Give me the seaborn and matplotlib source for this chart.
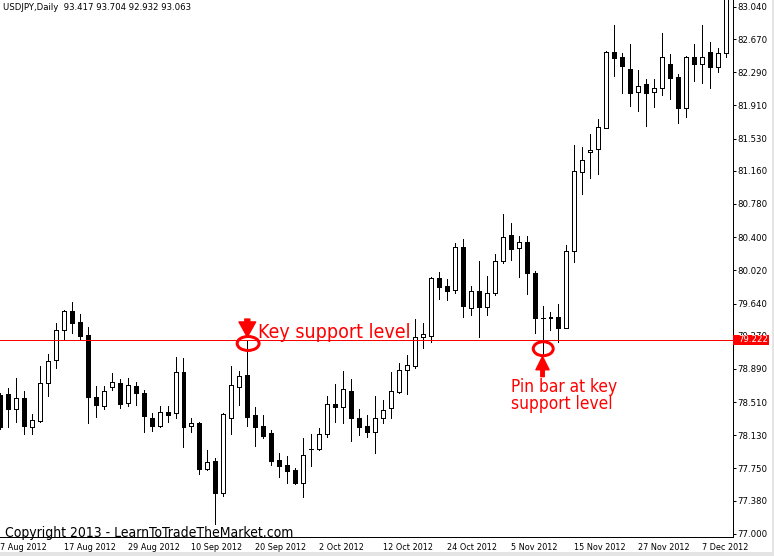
# USDJPY daily candlestick chart with key support level / pin bar annotations
import numpy as np
import pandas as pd
import matplotlib.pyplot as plt
from matplotlib.patches import Ellipse, Rectangle
from matplotlib.transforms import blended_transform_factory
import seaborn as sns

# %%
# OHLC values (7 Aug 2012 -> 12 Dec 2012, one candle per weekday)
opens = [78.590, 78.603, 78.428, 78.561, 78.221, 78.298, 78.725, 78.989, 79.332, 79.554,
         79.424, 79.279, 78.565, 78.470, 78.680, 78.725, 78.496, 78.695, 78.611, 78.328,
         78.241, 78.397, 78.382, 78.855, 78.237, 78.275, 77.748, 77.836, 77.473, 78.324,
         78.687, 78.821, 78.363, 78.241, 78.153, 77.847, 77.790, 77.733, 77.580, 77.978,
         77.973, 78.141, 78.485, 78.458, 78.638, 78.332, 78.237, 78.172, 78.324, 78.439,
         78.630, 78.878, 78.924, 79.261, 79.268, 79.929, 79.841, 79.795, 80.284, 79.585,
         79.784, 79.604, 79.757, 80.127, 80.425, 80.272, 80.341, 79.986, 79.475, 79.482,
         79.490, 79.364, 80.242, 81.151, 81.372, 81.407, 81.655, 82.518, 82.460, 82.323,
         82.059, 82.151, 82.059, 82.105, 82.380, 82.231, 81.884, 82.460, 82.380, 82.518,
         82.353, 82.506]
highs = [78.620, 78.668, 78.783, 78.638, 78.370, 78.924, 79.058, 79.413, 79.565, 79.657,
         79.520, 79.374, 78.695, 78.695, 78.840, 78.775, 78.783, 78.737, 78.649, 78.389,
         78.466, 78.466, 79.023, 79.012, 78.324, 78.286, 77.962, 77.866, 78.389, 78.924,
         78.871, 79.218, 78.458, 78.363, 78.191, 77.931, 77.897, 77.752, 78.103, 78.145,
         78.210, 78.580, 78.718, 78.871, 78.771, 78.431, 78.363, 78.580, 78.534, 78.859,
         78.962, 79.050, 79.458, 79.421, 79.948, 80.005, 79.921, 80.337, 80.375, 79.841,
         80.131, 79.955, 80.207, 80.666, 80.559, 80.414, 80.414, 80.016, 79.612, 79.547,
         79.631, 80.310, 81.456, 81.437, 81.578, 81.754, 82.537, 82.831, 82.506, 82.613,
         82.315, 82.208, 82.208, 82.735, 82.498, 82.269, 82.476, 82.613, 82.831, 82.632,
         82.563, 83.400]
lows = [78.200, 78.229, 78.286, 78.145, 78.145, 78.286, 78.580, 78.905, 79.222, 79.306,
        79.222, 78.275, 78.344, 78.431, 78.649, 78.447, 78.470, 78.477, 78.172, 78.183,
        78.221, 78.286, 78.332, 78.000, 78.172, 77.687, 77.733, 77.114, 77.435, 78.145,
        78.477, 78.237, 78.012, 78.103, 77.790, 77.656, 77.580, 77.572, 77.427, 77.782,
        77.962, 78.107, 78.286, 78.267, 78.069, 78.134, 78.115, 77.931, 78.275, 78.324,
        78.611, 78.603, 78.897, 79.127, 79.203, 79.692, 79.681, 79.757, 79.482, 79.509,
        79.261, 79.509, 79.738, 80.100, 80.139, 79.948, 79.749, 79.306, 79.060, 79.337,
        79.203, 79.356, 80.120, 80.891, 81.082, 81.124, 81.647, 82.250, 82.056, 81.903,
        81.849, 81.674, 81.895, 82.029, 81.983, 81.712, 81.781, 82.193, 82.170, 82.105,
        82.296, 82.468]
closes = [78.230, 78.428, 78.561, 78.241, 78.305, 78.725, 78.981, 79.336, 79.554, 79.413,
          79.271, 78.565, 78.477, 78.638, 78.737, 78.489, 78.703, 78.611, 78.355, 78.241,
          78.393, 78.366, 78.851, 78.229, 78.267, 77.748, 77.828, 77.473, 78.374, 78.703,
          78.809, 78.344, 78.229, 78.126, 77.836, 77.782, 77.725, 77.580, 77.905, 77.970,
          78.141, 78.485, 78.458, 78.657, 78.324, 78.229, 78.172, 78.324, 78.420, 78.638,
          78.878, 78.932, 79.260, 79.287, 79.929, 79.833, 79.787, 80.284, 79.616, 79.784,
          79.604, 79.757, 80.127, 80.398, 80.265, 80.341, 79.986, 79.471, 79.471, 79.475,
          79.364, 80.242, 81.158, 81.284, 81.399, 81.659, 82.518, 82.449, 82.365, 82.056,
          82.136, 82.056, 82.105, 82.460, 82.227, 81.884, 82.460, 82.380, 82.468, 82.353,
          82.506, 83.300]

support_level = 79.222
key_touch_idx = 31      # candle whose high tags the support line
pin_bar_idx = 68        # pin bar at support
price_ticks = [83.040, 82.670, 82.290, 81.910, 81.530, 81.160, 80.780, 80.400, 80.020,
               79.640, 79.270, 78.890, 78.510, 78.130, 77.750, 77.380, 77.000]
header_text = "USDJPY,Daily  93.417 93.704 92.932 93.063"
copyright_text = "Copyright 2013 - LearnToTradeTheMarket.com"

# %%
df = pd.DataFrame({"open": opens, "high": highs, "low": lows, "close": closes})
df["idx"] = np.arange(len(df))
df["date"] = pd.bdate_range("2012-08-07", periods=len(df))

# long format for the wicks: one low and one high row per candle
wicks = pd.concat([
    df[["idx", "low"]].rename(columns={"low": "price"}),
    df[["idx", "high"]].rename(columns={"high": "price"}),
])

sns.set_theme(style="white")
plt.rcParams["font.family"] = ["DejaVu Sans"]
plt.rcParams["font.stretch"] = "condensed"

PX = 0.72  # one pixel in points at dpi 100
W, H = 774, 556

fig = plt.figure(figsize=(W / 100, H / 100), dpi=100, facecolor="white")
ax = fig.add_axes([0, (H - 537) / H, 733 / W, 537 / H])
ax.set_facecolor("white")

# wicks
sns.lineplot(data=wicks, x="idx", y="price", units="idx", estimator=None, sort=False,
             color="black", lw=PX, antialiased=False, legend=False, ax=ax, zorder=2)

# bodies
bull = df["close"] >= df["open"]
ax.bar(df["idx"], (df["close"] - df["open"]).abs(), bottom=df[["open", "close"]].min(axis=1),
       width=0.5, color=np.where(bull, "white", "black"), edgecolor="black",
       linewidth=PX, antialiased=False, zorder=3)

# support line
ax.axhline(support_level, color="red", lw=PX, antialiased=False, zorder=4)

ax.set_xlim(0.25, 91.875)
ax.set_ylim(76.965, 83.117)
ax.set_xlabel("")
ax.set_ylabel("")

for side in ["top", "left"]:
    ax.spines[side].set_visible(False)
for side in ["right", "bottom"]:
    ax.spines[side].set_color("black")
    ax.spines[side].set_linewidth(PX)

ax.yaxis.tick_right()
ax.set_yticks(price_ticks)
ax.set_yticklabels([f"{v:.3f}" for v in price_ticks])
ax.tick_params(axis="y", direction="out", length=3 * PX, width=PX, pad=1.5 * PX,
               labelsize=6.8, colors="black")

tick_idx = df["idx"][::8]
ax.set_xticks(tick_idx)
ax.set_xticklabels([f"{d.day} {d:%b %Y}" for d in df["date"][::8]], ha="left")
ax.tick_params(axis="x", direction="out", length=4 * PX, width=PX, pad=1.5 * PX,
               labelsize=6.5, colors="black")

# --- annotations ---
red = "#ff0000"
ax.add_patch(Ellipse((key_touch_idx + 0.1, support_level - 0.04), 2.75, 0.16,
                     fill=False, ec=red, lw=3 * PX, zorder=5))
ax.annotate("", xy=(key_touch_idx, support_level + 0.035),
            xytext=(key_touch_idx, support_level + 0.24),
            arrowprops=dict(arrowstyle="simple,head_length=0.9,head_width=1.0,tail_width=0.3",
                            color=red, shrinkA=0, shrinkB=0, mutation_scale=12), zorder=5)
ax.text(key_touch_idx + 1.3, support_level + 0.02, "Key support level", color=red,
        fontsize=14, ha="left", va="baseline", zorder=6)

ax.add_patch(Ellipse((pin_bar_idx + 0.09, support_level - 0.10), 2.5, 0.16,
                     fill=False, ec=red, lw=3 * PX, zorder=5))
ax.annotate("", xy=(pin_bar_idx, support_level - 0.19),
            xytext=(pin_bar_idx, support_level - 0.42),
            arrowprops=dict(arrowstyle="simple,head_length=0.95,head_width=0.95,tail_width=0.25",
                            color=red, shrinkA=0, shrinkB=0, mutation_scale=10), zorder=5)
ax.text(pin_bar_idx - 3.9, support_level - 0.60, "Pin bar at key", color=red,
        fontsize=12.4, ha="left", va="baseline", zorder=6)
ax.text(pin_bar_idx - 3.9, support_level - 0.79, "support level", color=red,
        fontsize=12.4, ha="left", va="baseline", zorder=6)

# current price tag on the right scale
blend = blended_transform_factory(ax.transAxes, ax.transData)
ax.add_patch(Rectangle((1.0006, support_level - 0.055), 36 / 733, 0.108, transform=blend,
                       fc=red, ec="none", clip_on=False, zorder=7))
ax.text(1.0068, support_level, f"{support_level:.3f}", transform=blend, color="white",
        fontsize=6.8, ha="left", va="center", clip_on=False, zorder=8)

# header and watermark
fig.text(2.7 / W, (H - 10) / H, header_text, fontsize=6.8, color="black", va="baseline")
fig.text(5 / W, (H - 536.5) / H, copyright_text, fontsize=10, color="black", va="baseline")

# window border strips
fig.add_artist(Rectangle((0, 0), 1, 4 / H, transform=fig.transFigure,
                         fc="#e4e4e4", ec="none", zorder=0))
fig.add_artist(Rectangle((771.5 / W, 0), 2.5 / W, 1, transform=fig.transFigure,
                         fc="#e4e4e4", ec="none", zorder=0))

fig.savefig("out.png", dpi=100)
